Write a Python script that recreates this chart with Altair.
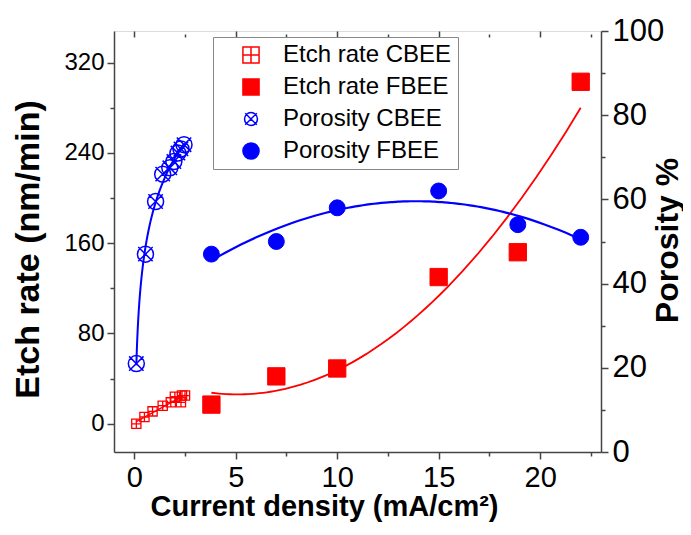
import altair as alt
import pandas as pd

# ---- data ----
cbee_etch_current = [0.1, 0.5, 0.9, 1.4, 1.8, 2.0, 2.3, 2.35, 2.5]
cbee_etch_rate = [0, 6, 11, 16, 19, 24, 19, 25, 25]

fbee_current = [3.8, 7.0, 10.0, 15.0, 18.9, 22.0]
fbee_etch_rate = [17, 42, 49, 130, 152, 303]

cbee_por_current = [0.1, 0.55, 1.05, 1.4, 1.75, 1.95, 2.15, 2.3, 2.45]
cbee_porosity = [21, 47, 59.5, 66, 67.5, 69, 71, 72, 73]

fbee_porosity = [47, 50, 58, 62, 54, 51]

series_names = ["Etch rate CBEE", "Etch rate FBEE", "Porosity CBEE", "Porosity FBEE"]

x_ticks = [0, 2.5, 5, 7.5, 10, 12.5, 15, 17.5, 20, 22.5]
left_ticks = [0, 40, 80, 120, 160, 200, 240, 280, 320]
right_ticks = [0, 10, 20, 30, 40, 50, 60, 70, 80, 90, 100]

etch_cb = pd.DataFrame({"current": cbee_etch_current, "value": cbee_etch_rate, "series": series_names[0]})
etch_fb = pd.DataFrame({"current": fbee_current, "value": fbee_etch_rate, "series": series_names[1]})
por_cb = pd.DataFrame({"current": cbee_por_current, "value": cbee_porosity, "series": series_names[2]})
por_fb = pd.DataFrame({"current": fbee_current, "value": fbee_porosity, "series": series_names[3]})

RED = "#ff0000"
BLUE = "#0000ff"
FONT = "Liberation Sans"
AX = "#444444"

sq_plus = "M-1,-1H1V1H-1Z M0,-1V1 M-1,0H1"
circ_x = ("M0.8,0A0.8,0.8 0 1,1 -0.8,0A0.8,0.8 0 1,1 0.8,0Z "
          "M-0.72,-0.72L0.72,0.72 M-0.72,0.72L0.72,-0.72")

stroke_scale = alt.Scale(domain=series_names, range=[RED, RED, BLUE, BLUE])
fill_scale = alt.Scale(domain=series_names, range=["transparent", RED, "transparent", BLUE])
shape_scale = alt.Scale(domain=series_names, range=[sq_plus, "square", circ_x, "circle"])

legend = alt.Legend(
    title=None, columns=1,
    orient="none", legendX=99, legendY=6,
    labelFont=FONT, labelFontSize=24, labelColor="black", labelLimit=400,
    symbolSize=260, symbolStrokeWidth=1.5, symbolOffset=20,
    labelOffset=20, rowPadding=8, padding=6,
    strokeColor="#888888", fillColor="white",
)

x_scale = alt.Scale(domain=[-1, 23], nice=False, zero=False)

x_enc = alt.X(
    "current:Q",
    scale=x_scale,
    axis=alt.Axis(
        orient="bottom", values=x_ticks, labelExpr="datum.value % 5 === 0 ? datum.label : ''",
        title="Current density (mA/cm²)", titleFont=FONT, titleFontSize=29,
        titleFontWeight="bold", titleColor="black", titleX=210, titleY=63,
        titleAlign="center", titleBaseline="alphabetic",
        labelFont=FONT, labelFontSize=29, labelColor="black", labelPadding=4,
        tickSize={"condition": {"test": "datum.value % 5 === 0", "value": 7}, "value": 4},
        tickColor=AX, domainColor=AX, domainWidth=1.5, tickWidth=1.5,
        grid=False,
    ),
)

x_top = alt.X(
    "current:Q",
    scale=x_scale,
    axis=alt.Axis(
        orient="top", values=x_ticks, labels=False, title=None, domain=False,
        offset=-6,
        tickSize={"condition": {"test": "datum.value % 5 === 0", "value": 6}, "value": 3},
        tickColor=AX, tickWidth=1.5, grid=False,
    ),
)

y_left = alt.Y(
    "value:Q",
    scale=alt.Scale(domain=[-25, 348], nice=False, zero=False),
    axis=alt.Axis(
        orient="left", values=left_ticks,
        labelExpr="datum.value % 80 === 0 ? datum.label : ''",
        title="Etch rate (nm/min)", titleFont=FONT, titleFontSize=34,
        titleFontWeight="bold", titleColor="black", titleX=-86, titleY=218,
        titleAngle=270, titleAlign="center", titleBaseline="middle",
        labelFont=FONT, labelFontSize=24, labelColor="black", labelPadding=3,
        tickSize={"condition": {"test": "datum.value % 80 === 0", "value": 7}, "value": 4},
        tickColor=AX, domainColor=AX, domainWidth=1.5, tickWidth=1.5,
        grid=False,
    ),
)

y_right = alt.Y(
    "value:Q",
    scale=alt.Scale(domain=[0, 100], nice=False, zero=False),
    axis=alt.Axis(
        orient="right", values=right_ticks,
        labelExpr="datum.value % 20 === 0 ? datum.label : ''",
        title="Porosity %", titleFont=FONT, titleFontSize=32,
        titleFontWeight="bold", titleColor="black", titleX=66, titleY=209,
        titleAngle=270, titleAlign="center", titleBaseline="middle",
        labelFont=FONT, labelFontSize=31, labelColor="black", labelPadding=4,
        tickSize={"condition": {"test": "datum.value % 20 === 0", "value": 7}, "value": 4},
        tickColor=AX, domainColor=AX, domainWidth=1.5, tickWidth=1.5,
        grid=False,
    ),
)


def points(df, x, y, size, sw):
    return alt.Chart(df).mark_point(size=size, strokeWidth=sw, opacity=1).encode(
        x=x,
        y=y,
        stroke=alt.Stroke("series:N", scale=stroke_scale, legend=legend),
        fill=alt.Fill("series:N", scale=fill_scale, legend=legend),
        shape=alt.Shape("series:N", scale=shape_scale, legend=legend),
    )


def fit(df, x, y, color, method, order=None, width=2):
    kw = {"method": method}
    if order is not None:
        kw["order"] = order
    return alt.Chart(df).transform_regression("current", "value", **kw).mark_line(
        color=color, strokeWidth=width
    ).encode(x=x, y=y)


left = alt.layer(
    fit(etch_cb, x_enc, y_left, RED, "linear", width=1.5),
    fit(etch_fb, x_enc, y_left, RED, "poly", order=2, width=1.8),
    points(etch_cb, x_enc, y_left, 85, 1.3),
    points(etch_fb, x_enc, y_left, 300, 1),
)

right = alt.layer(
    fit(por_cb, x_top, y_right, BLUE, "log", width=2),
    fit(por_fb, x_top, y_right, BLUE, "poly", order=2, width=2.2),
    points(por_cb, x_top, y_right, 400, 1.5),
    points(por_fb, x_top, y_right, 254, 1),
)

chart = (
    alt.layer(left, right)
    .resolve_scale(y="independent")
    .resolve_axis(x="independent")
    .properties(
        width=487, height=421,
        autosize=alt.AutoSizeParams(type="none"),
        padding={"left": 106, "top": 23, "right": 82, "bottom": 70},
    )
    .configure_view(stroke=AX, strokeWidth=1.5)
    .configure(background="white")
)

chart.save("out.html", embed_options={"renderer": "svg", "actions": False})
